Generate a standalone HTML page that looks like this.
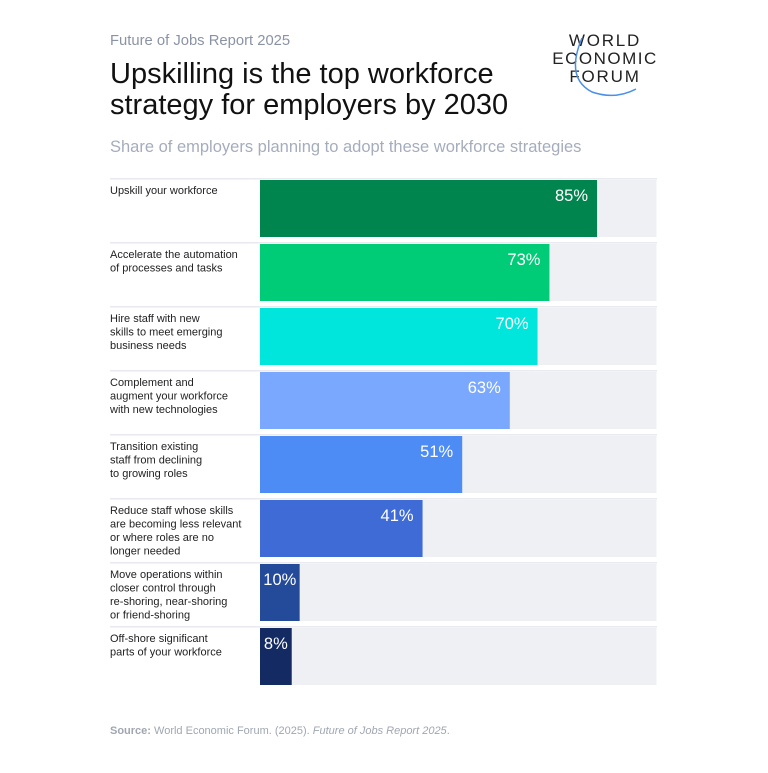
<!DOCTYPE html>
<html><head><meta charset="utf-8"><style>
body{margin:0;background:#fff;width:768px;height:768px;overflow:hidden;font-family:"Liberation Sans",Arial,sans-serif}
</style></head><body>
<svg width="768" height="768" xmlns="http://www.w3.org/2000/svg" font-family="Liberation Sans, Arial, sans-serif">
<text x="110" y="45" font-size="14.8" fill="#8a93a6">Future of Jobs Report 2025</text>
<text x="110" y="83" font-size="29" fill="#111">Upskilling is the top workforce</text>
<text x="110" y="114" font-size="29" fill="#111">strategy for employers by 2030</text>
<g>
<text x="605" y="46" font-size="17" text-anchor="middle" letter-spacing="1.8" fill="#222">WORLD</text>
<text x="605" y="64" font-size="17" text-anchor="middle" letter-spacing="1.5" fill="#222">ECONOMIC</text>
<text x="605" y="82" font-size="17" text-anchor="middle" letter-spacing="1.8" fill="#222">FORUM</text>
<path d="M582 38 Q565 78 592 92 Q615 100 636 89" fill="none" stroke="#4a8fe8" stroke-width="1.5"/>
</g>
<text x="110" y="152" font-size="16.5" fill="#a5adbd">Share of employers planning to adopt these workforce strategies</text>
<g id="bars"></g>
<text x="110" y="734" font-size="11" fill="#a0a6b2"><tspan font-weight="bold">Source:</tspan> World Economic Forum. (2025). <tspan font-style="italic">Future of Jobs Report 2025</tspan>.</text>
</svg>
<script>
const categories=[["Upskill your workforce"],["Accelerate the automation","of processes and tasks"],["Hire staff with new","skills to meet emerging","business needs"],["Complement and","augment your workforce","with new technologies"],["Transition existing","staff from declining","to growing roles"],["Reduce staff whose skills","are becoming less relevant","or where roles are no","longer needed"],["Move operations within","closer control through","re-shoring, near-shoring","or friend-shoring"],["Off-shore significant","parts of your workforce"]];
const values=[85,73,70,63,51,41,10,8];
const valueLabels=["85%","73%","70%","63%","51%","41%","10%","8%"];
const colors=["#00854f","#00cc77","#00e6dc","#7aa8ff","#4d8cf5","#3f6bd6","#244a9a","#132a63"];
const NS="http://www.w3.org/2000/svg";
const g=document.getElementById('bars');
const x0=260,W=396.5,top0=180,step=64,bh=57;
const xs=v=>x0+v/100*W;
function mk(t,a){const e=document.createElementNS(NS,t);for(const k in a)e.setAttribute(k,a[k]);g.appendChild(e);return e;}
values.forEach((v,i)=>{
const y=top0+i*step;
const sep=mk('rect',{x:110,y:y-2,width:547,height:1.5,fill:'#e8eaef'});


const bg=mk('rect',{x:x0,y:y,width:W,height:bh,fill:'#eff0f4'});


const b=mk('rect',{x:x0,y:y,width:xs(v)-x0,height:bh,fill:colors[i]});


const small=(xs(v)-x0)<60;
const t=mk('text',{x:small?(x0+xs(v))/2:xs(v)-9,y:y+21,'font-size':16.5,'text-anchor':small?'middle':'end',fill:'#fff'});
t.textContent=valueLabels[i];


categories[i].forEach((ln,j)=>{
const c=mk('text',{x:110,y:y+14+j*13.5,'font-size':11,fill:'#222'});
c.textContent=ln;


});
});
</script>
</body></html>
